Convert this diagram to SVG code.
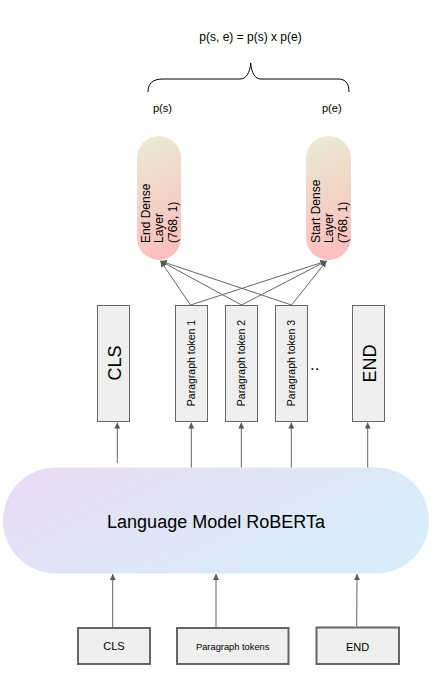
<svg xmlns="http://www.w3.org/2000/svg" width="436" height="693" viewBox="0 0 436 693">
<defs>
<linearGradient id="gDense" x1="0" y1="0" x2="0.15" y2="1">
<stop offset="0" stop-color="#e8ecd3"/>
<stop offset="1" stop-color="#fcc0bf"/>
</linearGradient>
<linearGradient id="gLM" x1="0" y1="0" x2="1" y2="0.5">
<stop offset="0" stop-color="#eadbf4"/>
<stop offset="1" stop-color="#d8edf9"/>
</linearGradient>
<marker id="arr" viewBox="0 0 10 10" refX="10" refY="5" markerWidth="6" markerHeight="6" markerUnits="userSpaceOnUse" orient="auto">
<path d="M0,0 L10,5 L0,10 z" fill="#595959"/>
</marker>
<style>
text{font-family:"Liberation Sans",Arial,sans-serif;fill:#000}
.tok{fill:#efefef;stroke:#666;stroke-width:1}
.inp{fill:#efefef;stroke:#666;stroke-width:2}
.con{stroke:#666;stroke-width:1;fill:none;marker-end:url(#arr)}
</style>
</defs>
<rect width="436" height="693" fill="#fff"/>

<g id="formula">
<text x="250.5" y="41" font-size="12" text-anchor="middle">p(s, e) = p(s) x p(e)</text>
<path d="M148,92 C148,84 152,79 163,79 L240,79 C246,79 250,73 250.7,63 C251.5,73 255,79 261,79 L338,79 C346,79 349,84 349,92" fill="none" stroke="#000" stroke-width="1"/>
<text x="153" y="112" font-size="11">p(s)</text>
<text x="322" y="112" font-size="11">p(e)</text>
</g>

<g id="end-dense">
<rect x="137" y="136" width="44" height="124" rx="22" fill="url(#gDense)"/>
<text transform="translate(150,243) rotate(-90)" font-size="12"><tspan x="0" dy="0">End Dense</tspan><tspan x="0" dy="13.3">Layer</tspan><tspan x="0" dy="13.3">(768, 1)</tspan></text>
</g>
<g id="start-dense">
<rect x="306" y="136" width="45" height="124" rx="22.5" fill="url(#gDense)"/>
<text transform="translate(320,243) rotate(-90)" font-size="12"><tspan x="0" dy="0">Start Dense</tspan><tspan x="0" dy="13.3">Layer</tspan><tspan x="0" dy="13.3">(768, 1)</tspan></text>
</g>

<g id="tok-cls">
<rect class="tok" x="97.5" y="305.5" width="32" height="116"/>
<text transform="translate(121,363) rotate(-90)" font-size="18" text-anchor="middle">CLS</text>
</g>
<g id="tok-p1">
<rect class="tok" x="175.5" y="305.5" width="32" height="116"/>
<text transform="translate(194.5,363) rotate(-90)" font-size="10.5" text-anchor="middle">Paragraph token 1</text>
</g>
<g id="tok-p2">
<rect class="tok" x="225.5" y="305.5" width="32" height="116"/>
<text transform="translate(244.5,363) rotate(-90)" font-size="10.5" text-anchor="middle">Paragraph token 2</text>
</g>
<g id="tok-p3">
<rect class="tok" x="275.5" y="305.5" width="32" height="116"/>
<text transform="translate(294.5,363) rotate(-90)" font-size="10.5" text-anchor="middle">Paragraph token 3</text>
</g>
<g id="dots">
<text x="310" y="370" font-size="17">..</text>
</g>
<g id="tok-end">
<rect class="tok" x="352.5" y="305.5" width="32" height="116"/>
<text transform="translate(376,363.5) rotate(-90)" font-size="18" text-anchor="middle">END</text>
</g>

<g id="lm">
<rect x="3" y="467.5" width="426" height="106" rx="53" fill="url(#gLM)"/>
<text x="216" y="528" font-size="18" text-anchor="middle">Language Model RoBERTa</text>
</g>

<g id="in-cls">
<rect class="inp" x="78" y="628" width="72" height="36"/>
<text x="114" y="650" font-size="11" text-anchor="middle">CLS</text>
</g>
<g id="in-para">
<rect class="inp" x="177" y="628" width="111.5" height="36"/>
<text x="232.7" y="650" font-size="9.3" text-anchor="middle">Paragraph tokens</text>
</g>
<g id="in-end">
<rect class="inp" x="316.5" y="627.5" width="82.5" height="36.5"/>
<text x="357.5" y="650.5" font-size="11" text-anchor="middle">END</text>
</g>

<g id="connectors">
<line class="con" x1="112.7" y1="627" x2="112.7" y2="574"/>
<line class="con" x1="216" y1="627" x2="216" y2="574"/>
<line class="con" x1="356.7" y1="626.5" x2="357" y2="574"/>
<line class="con" x1="117.3" y1="463" x2="117.3" y2="422.5"/>
<line class="con" x1="191.3" y1="467.5" x2="191.3" y2="422.5"/>
<line class="con" x1="241.3" y1="467.5" x2="241.3" y2="422.5"/>
<line class="con" x1="291.3" y1="467.5" x2="291.3" y2="422.5"/>
<line class="con" x1="367.7" y1="467.5" x2="367.7" y2="422.5"/>
<line class="con" x1="190.5" y1="305" x2="160.5" y2="261"/>
<line class="con" x1="190.5" y1="305" x2="326.5" y2="261"/>
<line class="con" x1="241.5" y1="305" x2="160.5" y2="261"/>
<line class="con" x1="241.5" y1="305" x2="326.5" y2="261"/>
<line class="con" x1="291.5" y1="305" x2="160.5" y2="261"/>
<line class="con" x1="291.5" y1="305" x2="326.5" y2="261"/>
</g>
</svg>
